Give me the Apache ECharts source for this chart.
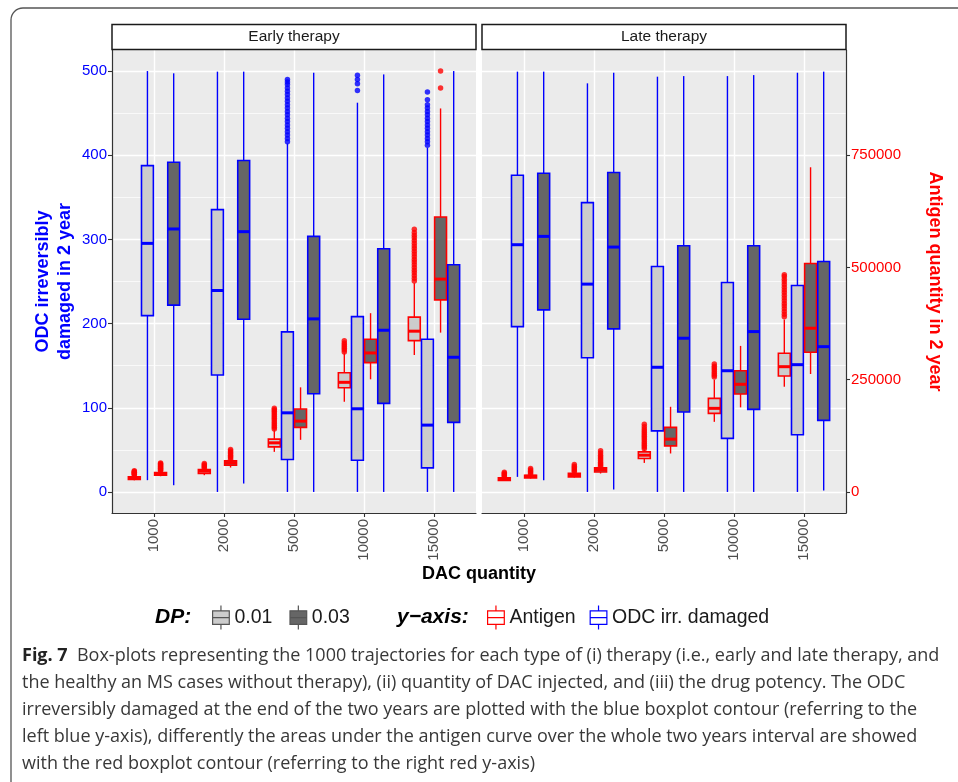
<!DOCTYPE html>
<html>
<head>
<meta charset="utf-8">
<script src="https://cdn.jsdelivr.net/npm/echarts@6/dist/echarts.min.js"></script>
<style>
html, body { margin: 0; padding: 0; background: #fff; }
#chart { width: 958px; height: 782px; }
</style>
</head>
<body>
<div id="chart"></div>
<script>
const dacLevels = ['1000', '2000', '5000', '10000', '15000'];
const odcTicks = [0, 100, 200, 300, 400, 500];
const antigenTicks = [0, 250000, 500000, 750000];

// box stats per DAC level: [lower whisker, Q1, median, Q3, upper whisker]
const earlyOdc001 = [[14, 209.5, 295.3, 387.7, 500], [0, 138.9, 239.3, 335.4, 499.3], [0, 38.5, 94, 190.1, 414], [0, 37.7, 98.8, 208.3, 462.4], [0, 28.6, 79.4, 181.4, 408.8]];
const earlyOdc003 = [[8, 221.9, 312.4, 391.7, 497.3], [10, 205.2, 309.2, 393.7, 499.3], [0, 116.7, 205.6, 303.6, 498], [0, 105.2, 192.1, 288.9, 496], [0, 82.6, 160, 269.9, 500]];
const earlyAnt001 = [[26000, 27700, 30500, 33500, 37000], [37300, 41000, 46200, 50000, 52000], [89300, 100500, 109400, 117600, 137800], [200900, 232100, 244200, 265600, 309000], [305100, 337100, 358100, 389300, 465100]];
const earlyAnt003 = [[35000, 37300, 41000, 43300, 46000], [54400, 59600, 64700, 69200, 72000], [116100, 143800, 157800, 184600, 233000], [250900, 288000, 309600, 340200, 398200], [354900, 427900, 474100, 612500, 854200]];

const lateOdc001 = [[17.9, 196.4, 293.7, 376.2, 499.3], [0, 159.5, 246.9, 343.7, 485.4], [0, 72.6, 148.1, 267.9, 493.3], [0, 63.6, 144, 248.8, 494], [0, 67.9, 151.2, 245.2, 498]];
const lateOdc003 = [[13.9, 216.3, 303.6, 378.6, 499.3], [2.9, 193.7, 290.9, 379.4, 498], [0, 94.9, 182.6, 292.5, 494], [0, 98.1, 190.5, 292.5, 495.2], [1.7, 85, 172.6, 273.8, 499.3]];
const lateAnt001 = [[24600, 25400, 28300, 31300, 33000], [32100, 33500, 37900, 41700, 44000], [64700, 74600, 81900, 89300, 94000], [156200, 175000, 186200, 208500, 250000], [234400, 258200, 279000, 309000, 384000]];
const lateAnt003 = [[29900, 31300, 35000, 37300, 39000], [41100, 44600, 50000, 53600, 56000], [85700, 102700, 117600, 143800, 189700], [188400, 218100, 239800, 270000, 325300], [262700, 311200, 364700, 508900, 723200]];

// outliers per DAC level
const earlyOdc001Out = [[], [], [416, 420, 424, 428, 432, 436, 440, 444, 448, 452, 456, 460, 464, 468, 472, 476, 480, 484, 487, 490], [477, 485, 490, 495], [412, 416, 420, 424, 428, 432, 436, 440, 444, 448, 452, 456, 460, 466, 475]];
const earlyOdc003Out = [[], [], [], [], []];
const earlyAnt001Out = [[38000, 39500, 41000, 42500, 44000, 45500, 47000], [53000, 55500, 58000, 60500, 63400], [140000, 144000, 148000, 152000, 156000, 160000, 164000, 168000, 172000, 176000, 180000, 183000, 186200], [312000, 316000, 320000, 324000, 328000, 332000, 337000], [470000, 476000, 482000, 488000, 494000, 500000, 506000, 512000, 518000, 524000, 530000, 536000, 542000, 548000, 554000, 560000, 566000, 572000, 578000, 585000]];
const earlyAnt003Out = [[47000, 49000, 51000, 53000, 55000, 57000, 59000, 61000, 63000, 64700], [73000, 76000, 79000, 82000, 85000, 88000, 91000, 94600], [], [], [900000, 937500]];
const lateOdc001Out = [[], [], [], [], []];
const lateOdc003Out = [[], [], [], [], []];
const lateAnt001Out = [[34000, 36500, 39000, 41500, 44000], [45000, 48000, 51000, 54000, 57500, 61000], [96000, 100000, 104000, 108000, 112000, 116000, 120000, 124000, 128000, 132000, 136000, 140000, 145000, 151000], [256000, 260000, 264000, 268000, 272000, 276000, 280000, 285000], [390000, 396000, 402000, 408000, 414000, 420000, 426000, 432000, 438000, 444000, 450000, 456000, 462000, 468000, 474000, 480000, 484000]];
const lateAnt003Out = [[40000, 43000, 46000, 49000, 52000], [57000, 60000, 63000, 66000, 70000, 74000, 78000, 82000, 86500, 91500], [], [], []];

const BLUE = '#0000FF';
const RED = '#FF0000';
const LIGHT = '#CCCCCC';
const DARK = '#666666';
const FONT = 'Liberation Sans';

// ggplot style dodge: 4 groups inside 0.75 of a category
const DODGE = 0.75, NGROUP = 4, BOX_W = 0.17;
function offsetOf(g) { return -DODGE / 2 + DODGE / NGROUP * (g + 0.5); }

function boxSeries(stats, grid, yIdx, group, fill, stroke) {
  const off = offsetOf(group);
  return {
    type: 'custom', xAxisIndex: grid, yAxisIndex: yIdx, z: 3,
    data: stats.map((s, i) => [i + 1 + off].concat(s)),
    encode: { x: 0, y: [1, 2, 3, 4, 5] },
    renderItem: function (params, api) {
      const x = api.value(0);
      const p = [1, 2, 3, 4, 5].map(d => api.coord([x, api.value(d)]));
      const half = api.size([BOX_W, 0])[0] / 2;
      const cx = p[0][0];
      return {
        type: 'group', children: [
          { type: 'line', shape: { x1: cx, y1: p[0][1], x2: cx, y2: p[1][1] }, style: { stroke: stroke, lineWidth: 1.4 } },
          { type: 'line', shape: { x1: cx, y1: p[3][1], x2: cx, y2: p[4][1] }, style: { stroke: stroke, lineWidth: 1.4 } },
          { type: 'rect', shape: { x: cx - half, y: p[3][1], width: half * 2, height: p[1][1] - p[3][1] }, style: { fill: fill, stroke: stroke, lineWidth: 1.6 } },
          { type: 'line', shape: { x1: cx - half, y1: p[2][1], x2: cx + half, y2: p[2][1] }, style: { stroke: stroke, lineWidth: 3 } }
        ]
      };
    }
  };
}

function outlierSeries(out, grid, yIdx, group, color) {
  const off = offsetOf(group);
  const pts = [];
  out.forEach((vals, i) => vals.forEach(v => pts.push([i + 1 + off, v])));
  return { type: 'scatter', xAxisIndex: grid, yAxisIndex: yIdx, z: 4, symbolSize: 5.5, itemStyle: { color: color }, data: pts };
}

function xAxisFor(grid) {
  return {
    type: 'value', gridIndex: grid, min: 0.4, max: 5.6,
    axisLine: { show: true, onZero: false, lineStyle: { color: '#333', width: 1.2 } },
    axisTick: { show: true, customValues: [1, 2, 3, 4, 5], length: 4, lineStyle: { color: '#333', width: 1.1 } },
    axisLabel: { customValues: [1, 2, 3, 4, 5], rotate: 90, formatter: v => dacLevels[v - 1], color: '#4D4D4D', fontSize: 15, fontFamily: FONT, margin: 6 },
    splitLine: { show: true, lineStyle: { color: '#FFFFFF', width: 1.4 } }
  };
}

function odcAxis(grid, visible) {
  return {
    type: 'value', gridIndex: grid, position: 'left', min: -25, max: 525,
    axisLine: { show: visible, onZero: false, lineStyle: { color: '#333', width: 1.2 } },
    axisTick: { show: visible, customValues: odcTicks, length: 4, lineStyle: { color: '#333', width: 1.1 } },
    axisLabel: { show: visible, customValues: odcTicks, color: BLUE, fontSize: 15, fontFamily: FONT, margin: 5 },
    splitLine: { show: true, lineStyle: { color: '#FFFFFF', width: 1.4 } },
    minorTick: { show: false, splitNumber: 2 },
    minorSplitLine: { show: true, lineStyle: { color: '#FFFFFF', width: 0.7 } },
    name: visible ? 'ODC irreversibly\ndamaged in 2 year' : '',
    nameLocation: 'middle', nameGap: 36,
    nameTextStyle: { color: BLUE, fontSize: 18, fontWeight: 'bold', fontFamily: FONT, lineHeight: 22 }
  };
}

function antigenAxis(grid, visible) {
  return {
    type: 'value', gridIndex: grid, position: 'right', min: -46875, max: 984375,
    show: visible,
    axisLine: { show: true, onZero: false, lineStyle: { color: '#333', width: 1.2 } },
    axisTick: { show: true, customValues: antigenTicks, length: 4, lineStyle: { color: '#333', width: 1.1 } },
    axisLabel: { customValues: antigenTicks, formatter: v => String(v), color: RED, fontSize: 15, fontFamily: FONT, margin: 5 },
    splitLine: { show: false },
    name: 'Antigen quantity in 2 year', nameLocation: 'middle', nameGap: 80, nameRotate: -90,
    nameTextStyle: { color: RED, fontSize: 18, fontWeight: 'bold', fontFamily: FONT }
  };
}

const boxIcon = 'path://M8,0L8,5M0,5L16,5L16,18L0,18ZM0,11.5L16,11.5M8,18L8,23';

const captionLines = [
  '{b|Fig. 7}  Box-plots representing the 1000 trajectories for each type of (i) therapy (i.e., early and late therapy, and',
  'the healthy an MS cases without therapy), (ii) quantity of DAC injected, and (iii) the drug potency. The ODC',
  'irreversibly damaged at the end of the two years are plotted with the blue boxplot contour (referring to the',
  'left blue y-axis), differently the areas under the antigen curve over the whole two years interval are showed',
  'with the red boxplot contour (referring to the right red y-axis)'
];

function strip(x, label) {
  return [
    { type: 'rect', shape: { x: x, y: 24.5, width: 364, height: 25 }, style: { fill: '#FFFFFF', stroke: '#1A1A1A', lineWidth: 1.5 }, z: 10 },
    { type: 'text', x: x + 182, y: 37, style: { text: label, fill: '#1A1A1A', font: '15.5px "Liberation Sans"', textAlign: 'center', textVerticalAlign: 'middle' }, z: 11 }
  ];
}

const graphics = [
  { type: 'rect', shape: { x: 11, y: 8, width: 1000, height: 800, r: 12 }, style: { fill: 'none', stroke: '#555', lineWidth: 1.3 }, z: 0 },
  ...strip(112, 'Early therapy'),
  ...strip(482, 'Late therapy'),
  { type: 'text', x: 479, y: 574, style: { text: 'DAC quantity', fill: '#000', font: 'bold 18px "Liberation Sans"', textAlign: 'center', textVerticalAlign: 'middle' } },
  { type: 'text', x: 155, y: 617, style: { text: 'DP:', fill: '#000', font: 'italic bold 21px "Liberation Sans"', textVerticalAlign: 'middle' } },
  { type: 'text', x: 397, y: 617, style: { text: 'y\u2212axis:', fill: '#000', font: 'italic bold 21px "Liberation Sans"', textVerticalAlign: 'middle' } }
];
captionLines.forEach((line, i) => {
  graphics.push({
    type: 'text', x: 22, y: 656 + i * 27,
    style: {
      text: line, fill: '#383838', font: '18px "Open Sans"', textVerticalAlign: 'middle',
      rich: { b: { font: 'bold 18px "Open Sans"', fill: '#222' } }
    }
  });
});

function dummy(name) {
  return { type: 'custom', name: name, xAxisIndex: 0, yAxisIndex: 0, data: [], renderItem: () => null };
}

const chart = echarts.init(document.getElementById('chart'));
chart.setOption({
  animation: false,
  backgroundColor: '#FFFFFF',
  grid: [
    { left: 112, top: 50, width: 364, height: 463, show: true, backgroundColor: '#EBEBEB', borderWidth: 0 },
    { left: 482, top: 50, width: 364, height: 463, show: true, backgroundColor: '#EBEBEB', borderWidth: 0 }
  ],
  xAxis: [xAxisFor(0), xAxisFor(1)],
  yAxis: [odcAxis(0, true), antigenAxis(0, false), odcAxis(1, false), antigenAxis(1, true)],
  legend: [
    {
      left: 207, top: 600, itemWidth: 17, itemHeight: 24, itemGap: 17, selectedMode: false,
      textStyle: { fontSize: 19.5, color: '#1A1A1A', fontFamily: FONT },
      data: [
        { name: '0.01', icon: boxIcon, itemStyle: { color: LIGHT, borderColor: '#555', borderWidth: 1.2 } },
        { name: '0.03', icon: boxIcon, itemStyle: { color: DARK, borderColor: '#555', borderWidth: 1.2 } }
      ]
    },
    {
      left: 482, top: 600, itemWidth: 17, itemHeight: 24, itemGap: 14, selectedMode: false,
      textStyle: { fontSize: 19.5, color: '#1A1A1A', fontFamily: FONT },
      data: [
        { name: 'Antigen', icon: boxIcon, itemStyle: { color: '#FFFFFF', borderColor: RED, borderWidth: 1.2 } },
        { name: 'ODC irr. damaged', icon: boxIcon, itemStyle: { color: '#FFFFFF', borderColor: BLUE, borderWidth: 1.2 } }
      ]
    }
  ],
  graphic: graphics,
  series: [
    dummy('0.01'), dummy('0.03'), dummy('Antigen'), dummy('ODC irr. damaged'),
    boxSeries(earlyAnt001, 0, 1, 0, LIGHT, RED),
    boxSeries(earlyOdc001, 0, 0, 1, LIGHT, BLUE),
    boxSeries(earlyAnt003, 0, 1, 2, DARK, RED),
    boxSeries(earlyOdc003, 0, 0, 3, DARK, BLUE),
    outlierSeries(earlyAnt001Out, 0, 1, 0, RED),
    outlierSeries(earlyOdc001Out, 0, 0, 1, BLUE),
    outlierSeries(earlyAnt003Out, 0, 1, 2, RED),
    outlierSeries(earlyOdc003Out, 0, 0, 3, BLUE),
    boxSeries(lateAnt001, 1, 3, 0, LIGHT, RED),
    boxSeries(lateOdc001, 1, 2, 1, LIGHT, BLUE),
    boxSeries(lateAnt003, 1, 3, 2, DARK, RED),
    boxSeries(lateOdc003, 1, 2, 3, DARK, BLUE),
    outlierSeries(lateAnt001Out, 1, 3, 0, RED),
    outlierSeries(lateOdc001Out, 1, 2, 1, BLUE),
    outlierSeries(lateAnt003Out, 1, 3, 2, RED),
    outlierSeries(lateOdc003Out, 1, 2, 3, BLUE)
  ]
});
</script>
</body>
</html>
